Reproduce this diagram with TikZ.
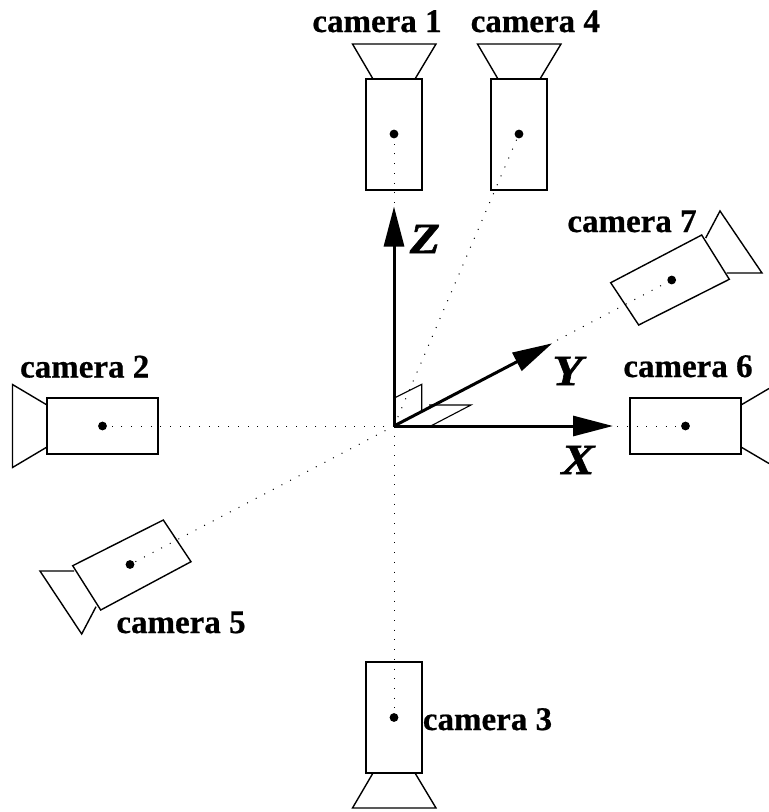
\documentclass[tikz,border=0pt]{standalone}
\usepackage{fontspec}
\setmainfont{Liberation Serif}
\newfontfamily\camfont[FakeBold=0.6]{Liberation Serif Bold}
\newfontfamily\axfont[FakeBold=1.2]{Liberation Serif Bold Italic}
\usetikzlibrary{arrows.meta}
\tikzset{
  x=1pt,y=-1pt,
  body/.style={draw=black,line width=1.4pt,line join=miter},
  lens/.style={draw=black,line width=1.4pt,line join=miter},
  plane/.style={draw=black,line width=1.1pt},
  sight/.style={draw=black,line width=1pt,dash pattern=on 1pt off 8.7pt},
  axis/.style={draw=black,line width=3pt,-{Triangle[length=40pt,width=20pt]}},
  pivot/.style={circle,fill=black,inner sep=0pt,minimum size=8.8pt},
  cam/.style={font=\fontsize{33}{35}\selectfont\camfont,anchor=base,inner sep=0pt},
  axlabel/.style={font=\fontsize{43}{45}\selectfont\axfont,anchor=base,inner sep=0pt,xscale=1.15}
}
\begin{document}
\begin{tikzpicture}
\useasboundingbox (0,0) rectangle (769,812);
\coordinate (o) at (394,426);
% camera pivots
\node[pivot] (c1) at (394,134) {};
\node[pivot] (c2) at (102.5,426) {};
\node[pivot] (c3) at (394,717.5) {};
\node[pivot] (c4) at (519,134) {};
\node[pivot] (c5) at (130,564.5) {};
\node[pivot] (c6) at (685.5,426) {};
\node[pivot] (c7) at (671.7,280) {};
% sight lines
\foreach \c in {c1,c2,c3,c4,c5,c6,c7} \draw[sight] (o) -- (\c);
% camera 1
\draw[body] (366,79) rectangle (422,190);
\draw[lens] (373,79) -- (352.5,44) -- (436,44) -- (415,79);
% camera 4
\draw[body] (491,79) rectangle (547,190);
\draw[lens] (498,79) -- (477.5,44) -- (561,44) -- (540,79);
% camera 3
\draw[body] (366,662) rectangle (422,773);
\draw[lens] (373,773) -- (352.5,808) -- (436,808) -- (415,773);
% camera 2
\draw[body] (47,398) rectangle (158,454);
\draw[lens] (47,405) -- (12.5,384.5) -- (12.5,467.5) -- (47,447);
% camera 6
\draw[body] (630,398) rectangle (741,454);
\draw[lens] (741,405) -- (769,388.5);
\draw[lens] (741,447) -- (769,463.5);
% camera 7
\draw[body] (610.7,282.7) -- (701.7,235) -- (729.3,279.3) -- (638.7,325) -- cycle;
\draw[lens] (705.7,238) -- (720,211) -- (762,273) -- (726.7,273);
% camera 5
\draw[body] (163.3,520) -- (191,561.7) -- (100.7,610) -- (72.7,565.7) -- cycle;
\draw[lens] (74,571) -- (40,571) -- (81.7,634) -- (96,606.7);
% small planes
\coordinate (p1) at (395,397.7);
\coordinate (p2) at (421.7,384.3);
\coordinate (p3) at (421.7,410);
\coordinate (q1) at (429,405);
\coordinate (q2) at (471,405);
\coordinate (q3) at (431.7,425.5);
\draw[plane] (p1) -- (p2) -- (p3);
\draw[plane] (q1) -- (q2) -- (q3);
% axes
\coordinate (xtip) at (613,426);
\coordinate (ytip) at (552.3,343.3);
\coordinate (ztip) at (394,206.5);
\draw[axis] (o) -- (xtip);
\draw[axis] (o) -- (ytip);
\draw[axis] (o) -- (ztip);
\node[axlabel] (lx) at (578,474) {X};
\node[axlabel] (ly) at (567.5,385) {Y};
\node[axlabel] (lz) at (425,253) {Z};
% labels
\node[cam] (l1) at (377,32) {camera 1};
\node[cam] (l4) at (535.3,32) {camera 4};
\node[cam] (l7) at (632,232) {camera 7};
\node[cam] (l6) at (688,377) {camera 6};
\node[cam] (l2) at (84.7,377.5) {camera 2};
\node[cam] (l5) at (181,633) {camera 5};
\node[cam] (l3) at (487.5,730) {camera 3};
\end{tikzpicture}
\end{document}
